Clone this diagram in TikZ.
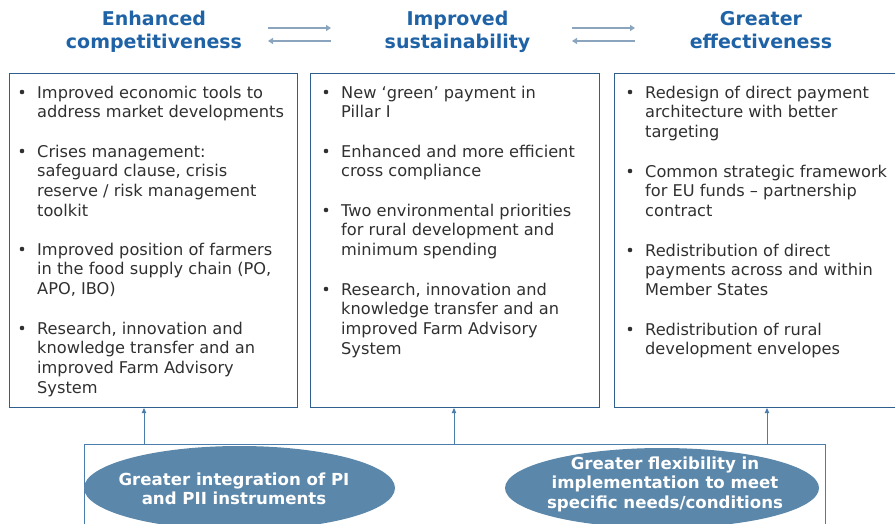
\documentclass[tikz,border=0pt]{standalone}
\usepackage{fontspec}
\setmainfont{DejaVu Sans}
\newfontfamily\headfont{DejaVu Sans}
\usetikzlibrary{shapes.geometric,arrows.meta}
\definecolor{titleblue}{HTML}{1F63A6}
\definecolor{ellblue}{HTML}{5B87AA}
\definecolor{boxline}{HTML}{2E5F8E}
\definecolor{baseline}{HTML}{4A7DAB}
\definecolor{harrowc}{HTML}{8AA5BD}
\definecolor{textgray}{HTML}{303030}
\tikzset{
  title/.style={align=center, text=titleblue, inner sep=0,
    font=\headfont\bfseries\fontsize{19}{23}\selectfont},
  colbox/.style={draw=boxline, line width=1.1pt, anchor=north west, inner sep=0},
  item/.style={anchor=north west, inner sep=0, align=left, text=textgray,
    font=\fontsize{16.2}{19.7}\selectfont},
  bul/.style={fill=textgray},
  harrow/.style={draw=harrowc, line width=2pt, -{Triangle[length=5pt,width=6pt]}},
  uparrow/.style={draw=baseline, line width=0.9pt, -{Triangle[length=5pt,width=4.5pt]}},
  ell/.style={ellipse, fill=ellblue, inner sep=0},
  elltext/.style={text=white, align=center, inner sep=0,
    font=\headfont\bfseries\fontsize{16.6}{19.5}\selectfont},
}
\begin{document}
\begin{tikzpicture}[x=1pt,y=-1pt]
\useasboundingbox (0,0) rectangle (895,524);
\begin{scope}
\clip (0,0) rectangle (895,524);
% titles
\node[title] (t1) at (154,32.5) {Enhanced\strut\\competitiveness\strut};
\node[title] (t2) at (457.5,32.5) {Improved\strut\\sustainability\strut};
\node[title] (t3) at (761,32.5) {Greater\strut\\effectiveness\strut};
\coordinate (h1a) at (268,28); \coordinate (h1b) at (331,28);
\coordinate (h1c) at (331,41); \coordinate (h1d) at (268,41);
\coordinate (h2a) at (572,28); \coordinate (h2b) at (635,28);
\coordinate (h2c) at (635,41); \coordinate (h2d) at (572,41);
\draw[harrow] (h1a) -- (h1b);
\draw[harrow] (h1c) -- (h1d);
\draw[harrow] (h2a) -- (h2b);
\draw[harrow] (h2c) -- (h2d);
% boxes
\node[colbox, minimum width=288pt, minimum height=334pt] (box1) at (9,73) {};
\node[colbox, minimum width=289pt, minimum height=334pt] (box2) at (310,73) {};
\node[colbox, minimum width=284pt, minimum height=334pt] (box3) at (614,73) {};
% box 1 items
\fill[bul] (22,92) circle (2.3); \node[item] (b1i1) at (37,85.5) {Improved economic tools to\\address market developments};
\fill[bul] (22,151) circle (2.3); \node[item] (b1i2) at (37,144.5) {Crises management:\\safeguard clause, crisis\\reserve / risk management\\toolkit};
\fill[bul] (22,249) circle (2.3); \node[item] (b1i3) at (37,242.5) {Improved position of farmers\\in the food supply chain (PO,\\APO, IBO)};
\fill[bul] (22,328) circle (2.3); \node[item] (b1i4) at (37,321.5) {Research, innovation and\\knowledge transfer and an\\improved Farm Advisory\\System};
% box 2 items
\fill[bul] (326,92) circle (2.3); \node[item] (b2i1) at (341,85.5) {New ‘green’ payment in\\Pillar I};
\fill[bul] (326,151) circle (2.3); \node[item] (b2i2) at (341,144.5) {Enhanced and more efficient\\cross compliance};
\fill[bul] (326,210) circle (2.3); \node[item] (b2i3) at (341,203.5) {Two environmental priorities\\for rural development and\\minimum spending};
\fill[bul] (326,289) circle (2.3); \node[item] (b2i4) at (341,282.5) {Research, innovation and\\knowledge transfer and an\\improved Farm Advisory\\System};
% box 3 items
\fill[bul] (630,92) circle (2.3); \node[item] (b3i1) at (645,85.5) {Redesign of direct payment\\architecture with better\\targeting};
\fill[bul] (630,171) circle (2.3); \node[item] (b3i2) at (645,164.5) {Common strategic framework\\for EU funds – partnership\\contract};
\fill[bul] (630,250) circle (2.3); \node[item] (b3i3) at (645,243.5) {Redistribution of direct\\payments across and within\\Member States};
\fill[bul] (630,329) circle (2.3); \node[item] (b3i4) at (645,322.5) {Redistribution of rural\\development envelopes};
% bottom box
\node[draw=baseline, line width=1pt, anchor=north west, inner sep=0,
  minimum width=741pt, minimum height=120pt] (base) at (84,444) {};
\coordinate (u1) at (144,444);
\coordinate (u2) at (454,444);
\coordinate (u3) at (767,444);
\draw[uparrow] (u1) -- (u1 |- box1.south);
\draw[uparrow] (u2) -- (u2 |- box2.south);
\draw[uparrow] (u3) -- (u3 |- box3.south);
% ellipses
\node[ell, minimum width=311pt, minimum height=84pt] (e1) at (239.5,488) {};
\node[elltext] (e1t) at (234,489) {Greater integration of PI\\and PII instruments};
\node[ell, minimum width=314pt, minimum height=80pt] (e2) at (662,488) {};
\node[elltext] (e2t) at (665,484) {Greater flexibility in\\implementation to meet\\specific needs/conditions};
\end{scope}
\end{tikzpicture}
\end{document}
